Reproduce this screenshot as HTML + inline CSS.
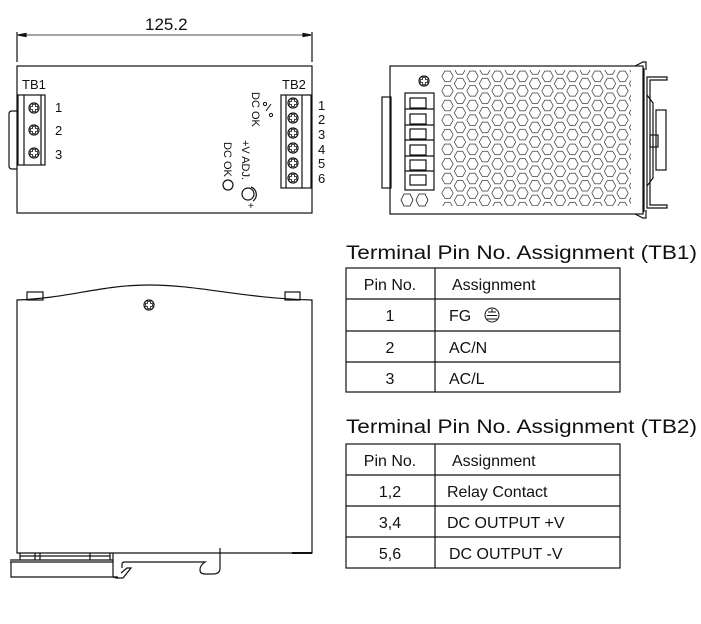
<!DOCTYPE html>
<html><head><meta charset="utf-8"><style>
html,body{margin:0;padding:0;background:#fff}
svg{display:block}
text{font-family:"Liberation Sans",sans-serif;fill:#111}
</style></head><body>
<svg width="701" height="624" viewBox="0 0 701 624" xmlns="http://www.w3.org/2000/svg">
<defs>
<pattern id="hex" x="441" y="69" width="25" height="14.6" patternUnits="userSpaceOnUse">
<polygon points="0.8,7.3 3.8,2.1 9.2,2.1 12.2,7.3 9.2,12.5 3.8,12.5" fill="none" stroke="#333" stroke-width="0.7"/>
<polygon points="13.3,0 16.3,-5.2 21.7,-5.2 24.7,0 21.7,5.2 16.3,5.2" fill="none" stroke="#333" stroke-width="0.7"/>
<polygon points="13.3,14.6 16.3,9.4 21.7,9.4 24.7,14.6 21.7,19.8 16.3,19.8" fill="none" stroke="#333" stroke-width="0.7"/>
</pattern>
<g id="screw"><circle r="5" fill="#fff" stroke="#111" stroke-width="1.2"/><path d="M-1.5,-3.5h3v2h2v3h-2v2h-3v-2h-2v-3h2z" fill="none" stroke="#111" stroke-width="0.8"/></g>
</defs>
<g fill="none" stroke="#111" stroke-width="1.2">
<line x1="17" y1="32" x2="17" y2="62"/><line x1="312" y1="32" x2="312" y2="62"/>
<line x1="18" y1="35" x2="311" y2="35" stroke-width="0.8"/>
<path d="M18,35 l8,-1.5 v3z M311,35 l-8,-1.5 v3z" fill="#111"/>
<rect x="17" y="66" width="295" height="147"/>
<path d="M17,111 h-5 q-3,0 -3,3 v52 q0,3 3,3 h5"/>
<rect x="18" y="95" width="27" height="70"/>
<line x1="24" y1="95" x2="24" y2="165"/><line x1="41" y1="95" x2="41" y2="165"/>
<rect x="281" y="95" width="30" height="93"/>
<line x1="286" y1="95" x2="286" y2="188"/><line x1="302" y1="95" x2="302" y2="188"/>
<circle cx="228" cy="185" r="5"/>
<circle cx="248" cy="194" r="6"/>
<path d="M251,187 a8,8 0 0 1 2,14"/>
<path d="M266,111 l5,-7" stroke-width="1"/><circle cx="265" cy="104" r="1.6" stroke-width="1"/><circle cx="271" cy="115" r="1.6" stroke-width="1"/>
<rect x="390" y="66" width="253" height="148"/>
<rect x="382" y="97" width="9" height="91"/>
<rect x="405" y="93" width="29" height="97"/>
<rect x="410" y="98" width="16" height="10"/><rect x="410" y="114" width="16" height="10"/><rect x="410" y="129" width="16" height="10"/><rect x="410" y="145" width="16" height="10"/><rect x="410" y="160" width="16" height="10"/><rect x="410" y="175" width="16" height="10"/>
<line x1="405" y1="109" x2="434" y2="109"/><line x1="405" y1="125" x2="434" y2="125"/><line x1="405" y1="140" x2="434" y2="140"/><line x1="405" y1="156" x2="434" y2="156"/><line x1="405" y1="171" x2="434" y2="171"/>
<polygon points="401,200 404,194 410,194 413,200 410,206 404,206" stroke-width="0.8"/>
<polygon points="416,200 419,194 425,194 428,200 425,206 419,206" stroke-width="0.8"/>
<line x1="644" y1="68" x2="644" y2="212"/>
<path d="M635,66 l8,-4 h3 v8 M635,214 l8,4 h3 v-8"/>
<path d="M647,77 h20 v3 h-17 v125 h17 v3 h-20z"/>
<rect x="656" y="110" width="10" height="60"/>
<path d="M647,95 l6,8 v75 l-6,8"/>
<rect x="650" y="135" width="8" height="12"/>
<path d="M17,300 C70,298 100,285 149,285 C200,285 240,298 312,300 V553 H17 Z"/>
<rect x="27" y="292" width="16" height="8"/><rect x="285" y="292" width="15" height="8"/>
<path d="M20,553 v7 M35,553 v7 M40,553 v7 M90,553 v7 M110,553 v7 M20,556 h90"/>
<path d="M10,560 h103 M10,562 h103 M11,562 v15 h107"/>
<path d="M113,553 v22 q0,3 4,3 h6 l8,-10 h-4 l-6,5 M122,568 v-4 q0,-2 3,-2 h80 q-5,3 -5,8 q0,4 5,4 h8 q7,0 7,-6 v-20"/>
<line x1="292" y1="553" x2="312" y2="553" stroke-width="2"/>
<rect x="346" y="268" width="274" height="124"/>
<line x1="346" y1="299" x2="620" y2="299"/><line x1="346" y1="331" x2="620" y2="331"/><line x1="346" y1="362" x2="620" y2="362"/>
<line x1="435" y1="268" x2="435" y2="392"/>
<rect x="346" y="444" width="274" height="124"/>
<line x1="346" y1="475" x2="620" y2="475"/><line x1="346" y1="506" x2="620" y2="506"/><line x1="346" y1="537" x2="620" y2="537"/>
<line x1="435" y1="444" x2="435" y2="568"/>
<circle cx="492" cy="315" r="7" stroke-width="1"/>
<path d="M488,312 h8 M487,315.5 h10 M487,319 h10 M492,309 v3" stroke-width="1"/>
</g>
<rect x="441" y="70" width="190" height="136" fill="url(#hex)"/>
<use href="#screw" x="34" y="108"/><use href="#screw" x="34" y="130"/><use href="#screw" x="34" y="153"/>
<use href="#screw" x="293" y="103"/><use href="#screw" x="293" y="118"/><use href="#screw" x="293" y="133"/><use href="#screw" x="293" y="148"/><use href="#screw" x="293" y="163"/><use href="#screw" x="293" y="178"/>
<use href="#screw" x="424" y="81"/>
<use href="#screw" x="149" y="305"/>
<text x="145" y="30" font-size="17">125.2</text>
<text x="22" y="89" font-size="13">TB1</text>
<text x="282" y="89" font-size="13">TB2</text>
<g font-size="13"><text x="55" y="112">1</text><text x="55" y="135">2</text><text x="55" y="159">3</text></g>
<g font-size="13"><text x="318" y="110">1</text><text x="318" y="124">2</text><text x="318" y="139">3</text><text x="318" y="154">4</text><text x="318" y="168">5</text><text x="318" y="183">6</text></g>
<g font-size="11">
<text transform="translate(252,92) rotate(90)">DC OK</text>
<text transform="translate(242,140) rotate(90)">+V ADJ.</text>
<text transform="translate(224,142) rotate(90)">DC OK</text>
<text x="248" y="209" font-size="10">+</text>
</g>
<g font-size="19">
<text x="346" y="259" textLength="351" lengthAdjust="spacingAndGlyphs">Terminal Pin No.  Assignment (TB1)</text>
<text x="346" y="433" textLength="351" lengthAdjust="spacingAndGlyphs">Terminal Pin No.  Assignment (TB2)</text>
</g>
<g font-size="16">
<text x="390" y="290" text-anchor="middle">Pin No.</text><text x="452" y="290">Assignment</text>
<text x="390" y="321" text-anchor="middle">1</text><text x="449" y="321">FG</text>
<text x="390" y="353" text-anchor="middle">2</text><text x="449" y="353">AC/N</text>
<text x="390" y="384" text-anchor="middle">3</text><text x="449" y="384">AC/L</text>
<text x="390" y="466" text-anchor="middle">Pin No.</text><text x="452" y="466">Assignment</text>
<text x="390" y="497" text-anchor="middle">1,2</text><text x="447" y="497">Relay Contact</text>
<text x="390" y="528" text-anchor="middle">3,4</text><text x="447" y="528">DC OUTPUT +V</text>
<text x="390" y="559" text-anchor="middle">5,6</text><text x="449" y="559">DC OUTPUT -V</text>
</g>
</svg>
</body></html>
